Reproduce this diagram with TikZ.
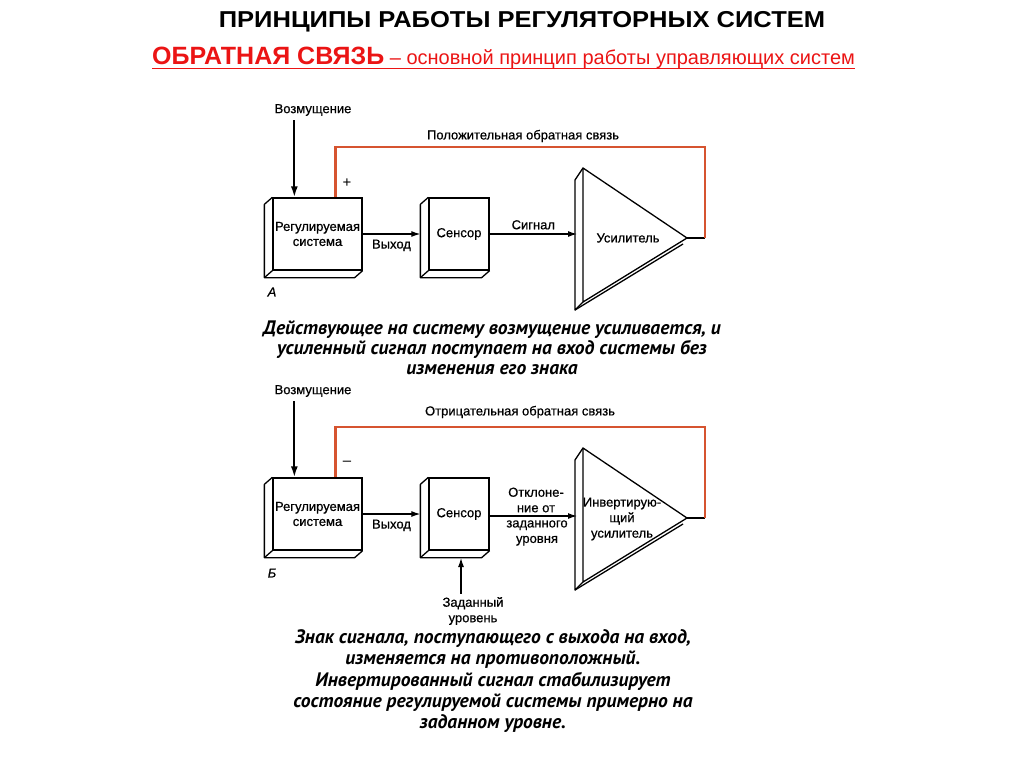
\documentclass[tikz,border=0pt]{standalone}
\usepackage{fontspec}
\setmainfont{Liberation Sans}
\newfontfamily\titlefont[FakeStretch=1.11]{Liberation Sans}
\newfontfamily\capfont{PT Sans}
\newfontfamily\diafont[FakeBold=0.6]{Liberation Sans}
\usetikzlibrary{arrows.meta,calc}
\definecolor{fbred}{RGB}{214,84,48}
\definecolor{titred}{RGB}{235,20,20}
\newcommand{\extrude}[1]{%
  \draw[line width=1.3pt, line join=round] (#1.north west) -- ++(-8,7) -- ($(#1.south west)+(-8,7)$) -- ($(#1.south east)+(-8,7)$) -- (#1.south east);
  \draw[line width=1.3pt] ($(#1.south west)+(-8,7)$) -- (#1.south west);}
\newcommand{\amplifier}[3]{% top, bottom, tip coordinate names
  \draw[line width=1.3pt, line join=round] (#1) -- (#3) -- (#2) -- cycle;
  \draw[line width=1.3pt, line join=round] (#1) -- ++(-8,12) -- ($(#2)+(-8,8)$) -- (#2);
  \draw[line width=1.3pt] ($(#2)+(-8,8)$) -- ($(#3)+(-4,6)$);}
\begin{document}
\begin{tikzpicture}[x=1pt,y=-1pt,
  lbl/.style={font=\diafont\fontsize{13}{15.5}\selectfont, inner sep=0pt, align=center},
  face/.style={draw, line width=1.3pt, fill=white, minimum width=89pt, minimum height=72pt, inner sep=0pt, align=center, font=\diafont\fontsize{13}{15}\selectfont},
  sensface/.style={face, minimum width=60pt, minimum height=72pt},
  arr/.style={line width=1.2pt, -{Latex[length=9pt,width=6pt]}},
  bigarr/.style={line width=2pt, -{Latex[length=11pt,width=7pt]}},
  fb/.style={draw=fbred, line width=2.5pt},
  captxt/.style={font=\capfont\fontsize{19.5}{20}\selectfont\bfseries\itshape, align=center, inner sep=0pt},
  letter/.style={font=\diafont\fontsize{13}{14}\selectfont\itshape, inner sep=0pt},
]
\useasboundingbox (0,0) rectangle (1024,768);
\fill[white] (0,0) rectangle (1024,768);

% titles
\node[font=\titlefont\fontsize{23}{28}\selectfont\bfseries, inner sep=0pt] (title) at (522,22) {ПРИНЦИПЫ РАБОТЫ РЕГУЛЯТОРНЫХ СИСТЕМ};
\node[anchor=base west, inner sep=0pt, text=titred] (sub) at (152,64) {{\fontsize{25}{28}\selectfont\bfseries ОБРАТНАЯ СВЯЗЬ}{\fontsize{20}{24}\selectfont\ – основной принцип работы управляющих систем}};
\draw[titred, line width=1.3pt] ([yshift=-4.5pt]sub.base west) -- ([yshift=-4.5pt]sub.base east);

% ===== Diagram A =====
\node[face] (rsA) at (317.5,234) {Регулируемая\\система};
\extrude{rsA}
\node[sensface] (sensA) at (459,234) {Сенсор};
\extrude{sensA}
\coordinate (ampAt) at (583,168);
\coordinate (ampAb) at (583,302);
\coordinate (ampAtip) at (687,238);
\amplifier{ampAt}{ampAb}{ampAtip}
\coordinate (ampAin) at (577,235);
\node[lbl] (ampAl) at (628,238) {Усилитель};
\node[lbl] (distA) at (313,110) {Возмущение};
\coordinate (distAin) at ($(rsA.north west)+(22,0)$);
\draw[bigarr] (distAin |- distA.south) ++(0,4) -- (distAin);
\draw[arr] (rsA.east) -- ([xshift=-8pt]sensA.west) node[lbl, midway, below=5pt] {Выход};
\draw[arr] (sensA.east) -- (sensA.east -| ampAin) node[lbl, midway, above=4pt] {Сигнал};
\coordinate (outA) at (705,238);
\coordinate (fbAin) at ($(rsA.north west)!0.7!(rsA.north east)$);
\draw[line width=1.3pt] (ampAtip) -- (outA);
\draw[fb, line join=miter] (outA) -- ++(0,-91) -| (fbAin);
\node[lbl] (fbAlbl) at (523,136) {Положительная обратная связь};
\node[lbl, font=\fontsize{15}{15}\selectfont] (plusA) at (347,183) {+};
\node[letter] (letA) at (272,292) {А};

\node[captxt] (capA) at (492,348) {Действующее на систему возмущение усиливается, и\\усиленный сигнал поступает на вход системы без\\изменения его знака};

% ===== Diagram B =====
\node[face] (rsB) at (317.5,514) {Регулируемая\\система};
\extrude{rsB}
\node[sensface] (sensB) at (459,514) {Сенсор};
\extrude{sensB}
\coordinate (ampBt) at (583,448);
\coordinate (ampBb) at (583,582);
\coordinate (ampBtip) at (687,518);
\amplifier{ampBt}{ampBb}{ampBtip}
\coordinate (ampBin) at (577,516);
\node[lbl] (ampBl) at (622,519) {Инвертирую-\\щий\\усилитель};
\node[lbl] (distB) at (313,391) {Возмущение};
\coordinate (distBin) at ($(rsB.north west)+(22,0)$);
\draw[bigarr] (distBin |- distB.south) ++(0,4) -- (distBin);
\draw[arr] (rsB.east) -- ([xshift=-8pt]sensB.west) node[lbl, midway, below=5pt] {Выход};
\draw[arr] ([yshift=-2pt]sensB.east) -- ([yshift=-2pt]sensB.east -| ampBin);
\node[lbl] (devB1) at (536,500) {Отклоне-\\ние от};
\node[lbl] (devB2) at (537,533) {заданного\\уровня};
\coordinate (outB) at (705,518);
\coordinate (fbBin) at ($(rsB.north west)!0.7!(rsB.north east)$);
\draw[line width=1.3pt] (ampBtip) -- (outB);
\draw[fb, line join=miter] (outB) -- ++(0,-91) -| (fbBin);
\node[lbl] (fbBlbl) at (520,412) {Отрицательная обратная связь};
\node[lbl, font=\fontsize{15}{15}\selectfont] (minusB) at (347,463) {–};
\node[letter] (letB) at (272,573) {Б};
\node[lbl] (setB) at (473,611) {Заданный\\уровень};
\coordinate (setBin) at ([xshift=2pt]sensB.south |- 0,558);
\draw[arr] (setBin |- setB.north) ++(0,-3) -- (setBin);

\node[captxt, font=\capfont\fontsize{19.5}{21.3}\selectfont\bfseries\itshape] (capB) at (493,681) {Знак сигнала, поступающего с выхода на вход,\\изменяется на противоположный.\\Инвертированный сигнал стабилизирует\\состояние регулируемой системы примерно на\\заданном уровне.};
\end{tikzpicture}
\end{document}
